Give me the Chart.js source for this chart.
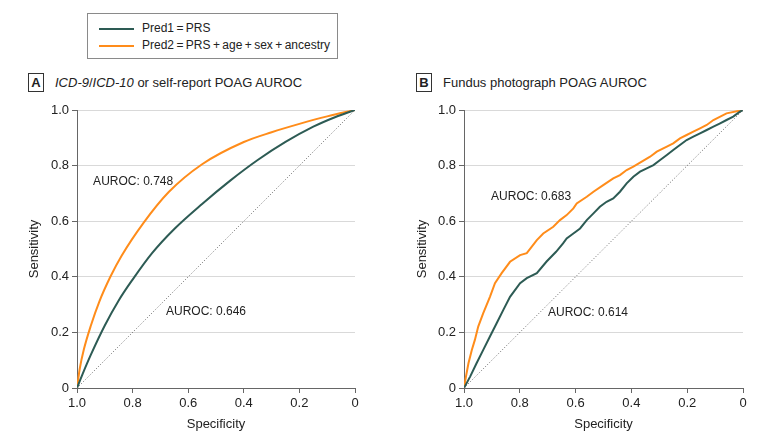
<!DOCTYPE html>
<html>
<head>
<meta charset="utf-8">
<script src="https://cdn.jsdelivr.net/npm/chart.js@4.4.1/dist/chart.umd.min.js"></script>
<style>
  html, body { margin: 0; padding: 0; background: #fff; }
  body { width: 780px; height: 443px; position: relative; overflow: hidden;
         font-family: "Liberation Sans", Arial, sans-serif; color: #222; }
  canvas { position: absolute; top: 0; }
  #legend { position: absolute; left: 87px; top: 13px; width: 249px; height: 44px;
            border: 1px solid #8a8a8a; font-size: 12px; }
  .leg-row { position: absolute; left: 11px; height: 16px; line-height: 16px; white-space: nowrap; }
  .leg-line { display: inline-block; width: 35px; height: 2px; vertical-align: middle; margin-right: 8px; }
  .panel-title { position: absolute; top: 73px; font-size: 13px; line-height: 19px; white-space: nowrap; }
  .panel-box { display: inline-block; width: 14px; height: 17px; border: 1px solid #333;
               text-align: center; font-weight: bold; font-size: 13px; line-height: 17px;
               margin-right: 11px; vertical-align: top; }
</style>
</head>
<body>
<div id="legend">
  <div class="leg-row" style="top:6px"><span class="leg-line" style="background:#2d5b54"></span>Pred1&thinsp;=&thinsp;PRS</div>
  <div class="leg-row" style="top:23px"><span class="leg-line" style="background:#ff8c1a"></span>Pred2&thinsp;=&thinsp;PRS&thinsp;+&thinsp;age&thinsp;+&thinsp;sex&thinsp;+&thinsp;ancestry</div>
</div>
<div class="panel-title" style="left:28px"><span class="panel-box">A</span><i>ICD-9</i>/<i>ICD-10</i> or self-report POAG AUROC</div>
<div class="panel-title" style="left:416px"><span class="panel-box">B</span>Fundus photograph POAG AUROC</div>
<canvas id="chartA" width="390" height="443" style="left:0"></canvas>
<canvas id="chartB" width="390" height="443" style="left:390px"></canvas>
<script>
// ---- data (specificity on x, sensitivity on y) ----
const chanceSpec = [1, 0];
const chanceSens = [0, 1];

// Panel A: ICD-9/ICD-10 or self-report
const specA_pred1 = [1, 0.98, 0.95, 0.9, 0.85, 0.8, 0.73, 0.65, 0.55, 0.45, 0.35, 0.25, 0.15, 0.07, 0];
const sensA_pred1 = [0, 0.05, 0.12, 0.225, 0.315, 0.39, 0.485, 0.572, 0.662, 0.745, 0.82, 0.885, 0.94, 0.975, 1];
const specA_pred2 = [1, 0.99, 0.975, 0.95, 0.92, 0.88, 0.84, 0.76, 0.67, 0.55, 0.4, 0.3, 0.2, 0.1, 0];
const sensA_pred2 = [0, 0.07, 0.14, 0.225, 0.31, 0.40, 0.475, 0.595, 0.705, 0.805, 0.885, 0.92, 0.95, 0.977, 1];

// Panel B: fundus photograph
const specB_pred1 = [1, 0.978, 0.955, 0.931, 0.907, 0.883, 0.859, 0.835, 0.799, 0.775, 0.739, 0.704, 0.67, 0.645,
  0.632, 0.608, 0.584, 0.560, 0.536, 0.513, 0.489, 0.465, 0.441, 0.417, 0.393, 0.369, 0.345, 0.321, 0.297,
  0.273, 0.250, 0.226, 0.202, 0.178, 0.154, 0.130, 0.106, 0.082, 0.059, 0.035, 0.011, 0];
const sensB_pred1 = [0, 0.041, 0.089, 0.137, 0.185, 0.233, 0.281, 0.328, 0.377, 0.395, 0.413, 0.455, 0.49, 0.52,
  0.538, 0.556, 0.574, 0.604, 0.628, 0.652, 0.670, 0.682, 0.706, 0.736, 0.760, 0.778, 0.790, 0.802, 0.820,
  0.838, 0.856, 0.874, 0.892, 0.904, 0.916, 0.928, 0.940, 0.952, 0.964, 0.976, 0.994, 1];
const specB_pred2 = [1, 0.993, 0.984, 0.972, 0.961, 0.949, 0.931, 0.907, 0.889, 0.865, 0.835, 0.799, 0.775, 0.739,
  0.716, 0.680, 0.656, 0.632, 0.608, 0.596, 0.560, 0.536, 0.501, 0.465, 0.441, 0.417, 0.393, 0.363, 0.333,
  0.309, 0.273, 0.250, 0.226, 0.202, 0.178, 0.154, 0.130, 0.106, 0.059, 0];
const sensB_pred2 = [0, 0.041, 0.089, 0.137, 0.173, 0.221, 0.269, 0.328, 0.377, 0.413, 0.454, 0.478, 0.485, 0.532,
  0.556, 0.580, 0.604, 0.622, 0.646, 0.664, 0.688, 0.706, 0.730, 0.754, 0.766, 0.784, 0.796, 0.814, 0.832,
  0.850, 0.868, 0.880, 0.898, 0.910, 0.922, 0.934, 0.946, 0.964, 0.988, 1];

const aurocA = ['AUROC: 0.748', 'AUROC: 0.646'];
const aurocB = ['AUROC: 0.683', 'AUROC: 0.614'];

const GREEN = '#2d5b54';
const ORANGE = '#ff8c1a';
const FONT = '"Liberation Sans", Arial, sans-serif';

const toPoints = (xs, ys) => xs.map((x, i) => ({ x: x, y: ys[i] }));

// text labels placed in data units
const aurocLabels = {
    id: 'aurocLabels',
    afterDatasetsDraw(chart, args, opts) {
        const { ctx, scales: { x, y } } = chart;
        ctx.save();
        ctx.font = '12px ' + FONT;
        ctx.fillStyle = '#222';
        ctx.textBaseline = 'middle';
        ctx.textAlign = 'left';
        opts.items.forEach(it => {
            ctx.fillText(it.text, x.getPixelForValue(it.x), y.getPixelForValue(it.y));
        });
        ctx.restore();
    }
};

function makeChart(id, p1, p2, labels, box) {
    return new Chart(document.getElementById(id), {
        type: 'scatter',
        data: {
            datasets: [
                { data: toPoints(chanceSpec, chanceSens), borderColor: '#666', borderWidth: 1,
                  borderDash: [1, 2], showLine: true, pointRadius: 0 },
                { label: 'Pred1 = PRS', data: p1, borderColor: GREEN, borderWidth: 2,
                  showLine: true, pointRadius: 0, cubicInterpolationMode: box.smooth ? 'monotone' : 'default' },
                { label: 'Pred2 = PRS + age + sex + ancestry', data: p2, borderColor: ORANGE, borderWidth: 2,
                  showLine: true, pointRadius: 0, cubicInterpolationMode: box.smooth ? 'monotone' : 'default' }
            ]
        },
        options: {
            responsive: false,
            animation: false,
            layout: { padding: { left: box.padLeft, right: box.padRight, top: 110, bottom: 0 } },
            plugins: {
                legend: { display: false },
                tooltip: { enabled: false },
                aurocLabels: { items: labels }
            },
            scales: {
                x: {
                    type: 'linear', min: 0, max: 1, reverse: true,
                    afterFit: s => { s.height = 55; },
                    ticks: { stepSize: 0.2, color: '#222', padding: 3,
                             font: { family: FONT, size: 13 },
                             callback: v => v === 0 ? '0' : v.toFixed(1) },
                    grid: { drawOnChartArea: false, tickLength: 5, tickColor: '#666' },
                    border: { color: '#666', width: 1 },
                    title: { display: true, text: 'Specificity', color: '#222',
                             font: { family: FONT, size: 13 }, padding: { top: 0, bottom: 11 } }
                },
                y: {
                    type: 'linear', min: 0, max: 1,
                    afterFit: s => { s.width = box.yWidth; },
                    ticks: { stepSize: 0.2, color: '#222', padding: 3,
                             font: { family: FONT, size: 13 },
                             callback: v => v === 0 ? '0' : v.toFixed(1) },
                    grid: { color: '#d9d9d9', tickLength: 5, tickColor: '#666' },
                    border: { color: '#666', width: 1 },
                    title: { display: true, text: 'Sensitivity', color: '#222',
                             font: { family: FONT, size: 13 }, padding: { top: 0, bottom: 0 } }
                }
            }
        },
        plugins: [aurocLabels]
    });
}

makeChart('chartA',
    toPoints(specA_pred1, sensA_pred1),
    toPoints(specA_pred2, sensA_pred2),
    [{ text: aurocA[0], x: 0.942, y: 0.741 }, { text: aurocA[1], x: 0.68, y: 0.273 }],
    { padLeft: 27, yWidth: 50, padRight: 35, smooth: true });

makeChart('chartB',
    toPoints(specB_pred1, sensB_pred1),
    toPoints(specB_pred2, sensB_pred2),
    [{ text: aurocB[0], x: 0.903, y: 0.687 }, { text: aurocB[1], x: 0.699, y: 0.27 }],
    { padLeft: 25, yWidth: 49, padRight: 37, smooth: false });
</script>
</body>
</html>
